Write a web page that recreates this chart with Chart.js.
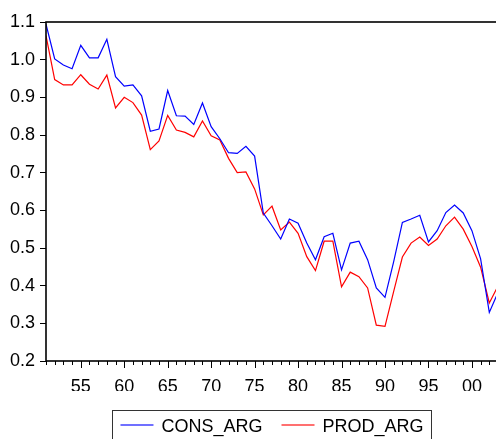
<!DOCTYPE html>
<html>
<head>
<meta charset="utf-8">
<script src="https://cdn.jsdelivr.net/npm/chart.js@4/dist/chart.umd.min.js"></script>
<style>
  html, body { margin: 0; padding: 0; background: #fff; overflow: hidden; }
  #wrap { width: 496px; height: 439px; overflow: hidden; position: relative; }
  canvas { display: block; }
</style>
</head>
<body>
<div id="wrap"><canvas id="c" width="544" height="452"></canvas></div>
<script>
const years = [1951,1952,1953,1954,1955,1956,1957,1958,1959,1960,
  1961,1962,1963,1964,1965,1966,1967,1968,1969,1970,
  1971,1972,1973,1974,1975,1976,1977,1978,1979,1980,
  1981,1982,1983,1984,1985,1986,1987,1988,1989,1990,
  1991,1992,1993,1994,1995,1996,1997,1998,1999,2000,
  2001,2002,2003];
const consArg = [1.094,1.002,0.986,0.976,1.038,1.005,1.005,1.054,0.955,0.930,
  0.933,0.904,0.810,0.816,0.918,0.851,0.850,0.828,0.885,0.822,
  0.790,0.753,0.751,0.770,0.744,0.593,0.559,0.524,0.577,0.566,
  0.513,0.469,0.530,0.539,0.442,0.513,0.518,0.469,0.394,0.369,
  0.464,0.568,0.577,0.587,0.516,0.546,0.594,0.614,0.593,0.546,
  0.471,0.329,0.382];
const prodArg = [1.064,0.947,0.933,0.933,0.960,0.935,0.922,0.959,0.872,0.900,
  0.886,0.853,0.761,0.784,0.852,0.813,0.807,0.795,0.837,0.798,
  0.787,0.738,0.700,0.702,0.657,0.588,0.611,0.548,0.569,0.539,
  0.477,0.440,0.518,0.518,0.397,0.436,0.424,0.394,0.295,0.292,
  0.385,0.476,0.513,0.529,0.507,0.524,0.559,0.582,0.550,0.504,
  0.449,0.354,0.399];
const seriesNames = ['CONS_ARG', 'PROD_ARG'];
const seriesColors = ['#0000ff', '#ff0000'];
const yTicks = [0.2,0.3,0.4,0.5,0.6,0.7,0.8,0.9,1.0,1.1];
const xLabelYears = [1955,1960,1965,1970,1975,1980,1985,1990,1995,2000];

const FONT = "'Liberation Sans', Arial, sans-serif";

const framePlugin = {
  id: 'frame',
  afterDraw(chart) {
    const ctx = chart.ctx;
    const a = chart.chartArea;
    const xs = chart.scales.x;
    ctx.save();
    ctx.strokeStyle = '#000';
    ctx.lineWidth = 1.6;
    ctx.strokeRect(a.left, a.top, a.right - a.left, a.bottom - a.top);
    ctx.lineWidth = 1;
    ctx.strokeStyle = '#000';
    years.forEach(yr => {
      const px = Math.round(xs.getPixelForValue(yr)) + 0.5;
      const len = xLabelYears.includes(yr) ? 7 : 4;
      ctx.beginPath();
      ctx.moveTo(px, a.bottom);
      ctx.lineTo(px, a.bottom + len);
      ctx.stroke();
    });
    ctx.font = '18px ' + FONT;
    const sw = 33, gap = 8, between = 19, margin = 8;
    const widths = seriesNames.map(n => ctx.measureText(n).width);
    const total = sw * 2 + gap * 2 + widths[0] + widths[1] + between;
    const cx = chart.width / 2;
    let x = cx - total / 2;
    const lineY = 425, baseY = 432;
    const boxTop = 410.5;
    ctx.strokeStyle = '#333';
    ctx.lineWidth = 1;
    ctx.strokeRect(Math.round(x - margin) + 0.5, boxTop, Math.round(total + margin * 2), 40);
    chart.data.datasets.forEach((ds, i) => {
      ctx.strokeStyle = ds.borderColor;
      ctx.globalAlpha = 0.75;
      ctx.lineWidth = 1.3;
      ctx.beginPath();
      ctx.moveTo(x, lineY);
      ctx.lineTo(x + sw, lineY);
      ctx.stroke();
      ctx.globalAlpha = 1;
      x += sw + gap;
      ctx.fillStyle = '#000';
      ctx.textBaseline = 'alphabetic';
      ctx.textAlign = 'left';
      ctx.fillText(ds.label, x, baseY);
      x += widths[i] + between;
    });
    ctx.restore();
  }
};

new Chart(document.getElementById('c'), {
  type: 'line',
  data: {
    datasets: [
      { label: seriesNames[0], data: years.map((y, i) => ({x: y, y: consArg[i]})),
        borderColor: seriesColors[0], backgroundColor: seriesColors[0],
        borderWidth: 1.2, pointRadius: 0, tension: 0, fill: false },
      { label: seriesNames[1], data: years.map((y, i) => ({x: y, y: prodArg[i]})),
        borderColor: seriesColors[1], backgroundColor: seriesColors[1],
        borderWidth: 1.2, pointRadius: 0, tension: 0, fill: false }
    ]
  },
  options: {
    responsive: false,
    animation: false,
    devicePixelRatio: 1,
    layout: { padding: { top: 22, right: 46, left: 0, bottom: 61 } },
    plugins: { legend: { display: false }, tooltip: { enabled: false } },
    scales: {
      x: {
        type: 'linear',
        min: years[0], max: years[years.length - 1],
        afterBuildTicks(scale) { scale.ticks = xLabelYears.map(v => ({value: v})); },
        afterFit(scale) { scale.height = 30; },
        grid: { display: false },
        border: { display: false },
        ticks: {
          autoSkip: false, maxRotation: 0, minRotation: 0, padding: 7,
          color: '#000', font: { family: FONT, size: 18 },
          callback(v) { return String(v % 100).padStart(2, '0'); }
        }
      },
      y: {
        min: yTicks[0], max: yTicks[yTicks.length - 1],
        afterBuildTicks(scale) { scale.ticks = yTicks.map(v => ({value: v})); },
        afterFit(scale) { scale.width = 46; },
        grid: { drawOnChartArea: false, drawTicks: true, tickLength: 6, color: '#000' },
        border: { display: false },
        ticks: {
          padding: 5, color: '#000', font: { family: FONT, size: 18 },
          callback(v) { return Number(v).toFixed(1); }
        }
      }
    }
  },
  plugins: [framePlugin]
});
</script>
</body>
</html>
